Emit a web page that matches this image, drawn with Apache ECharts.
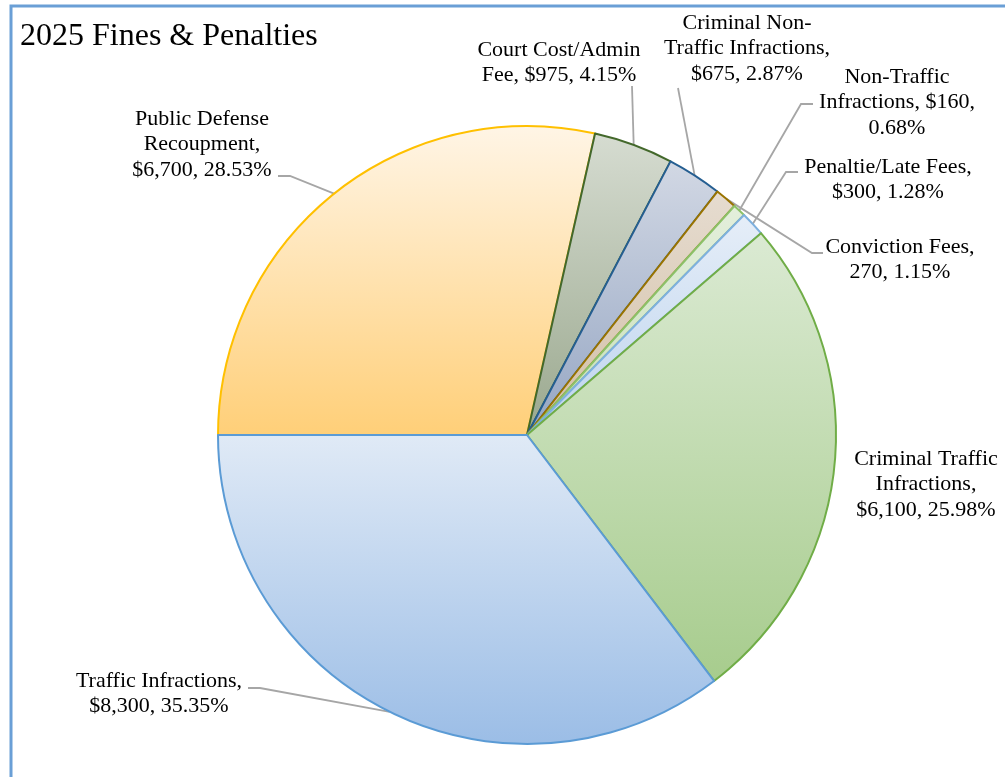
<!DOCTYPE html>
<html>
<head>
<meta charset="utf-8">
<title>2025 Fines & Penalties</title>
<script src="https://cdn.jsdelivr.net/npm/echarts@6/dist/echarts.min.js"></script>
<style>
  html, body { margin: 0; padding: 0; background: #ffffff; }
  #chart { width: 1005px; height: 777px; }
</style>
</head>
<body>
<div id="chart"></div>
<script>
// Fine and penalty categories, listed clockwise starting at the 9 o'clock position
const categories = [
  'Public Defense Recoupment',
  'Court Cost/Admin Fee',
  'Criminal Non-Traffic Infractions',
  'Conviction Fees',
  'Non-Traffic Infractions',
  'Penaltie/Late Fees',
  'Criminal Traffic Infractions',
  'Traffic Infractions'
];
const amounts = [6700, 975, 675, 270, 160, 300, 6100, 8300];
// The conviction fee amount is printed without a currency sign
const valuePrefixes = ['$', '$', '$', '', '$', '$', '$', '$'];
// Where each label's text wraps onto a new line
const labelBreaks = [
  ['Public Defense', 'Recoupment,'],
  ['Court Cost/Admin'],
  ['Criminal Non-', 'Traffic Infractions,'],
  ['Conviction Fees,'],
  ['Non-Traffic', 'Infractions, $160,'],
  ['Penaltie/Late Fees,'],
  ['Criminal Traffic', 'Infractions,'],
  ['Traffic Infractions,']
];

// Slice styling: gradient top/bottom and outline colour
const sliceStyles = [
  { top: '#FFF5E6', bottom: '#FFCF78', border: '#FFC000' },
  { top: '#D6DCD1', bottom: '#9AA88E', border: '#43682B' },
  { top: '#D2D8E4', bottom: '#95A6C3', border: '#255E91' },
  { top: '#E6DCD0', bottom: '#D2BFA5', border: '#997300' },
  { top: '#E4EFDC', bottom: '#C6DFB6', border: '#8CC168' },
  { top: '#E6EEF8', bottom: '#BCD3EE', border: '#7EB0DE' },
  { top: '#DBEAD3', bottom: '#A7CC8D', border: '#70AD47' },
  { top: '#E0EAF6', bottom: '#9BBDE6', border: '#5B9BD5' }
];

// Label placement: text centre x, text top y, and the leader line's label-side points
const labelPlacement = [
  { x: 202, y: 106, end: [278, 176], elbow: [290, 176] },
  { x: 559, y: 37,  end: [632, 86],  elbow: null },
  { x: 747, y: 10,  end: [678, 88],  elbow: null },
  { x: 900, y: 234, end: [823, 253], elbow: [812, 253] },
  { x: 897, y: 64,  end: [813, 104], elbow: [801, 104] },
  { x: 888, y: 154, end: [798, 172], elbow: [786, 172] },
  { x: 926, y: 446, end: null,       elbow: null },
  { x: 159, y: 668, end: [248, 688], elbow: [260, 688] }
];

const total = amounts.reduce((a, b) => a + b, 0);
const FONT = '"Liberation Serif", "Times New Roman", serif';

function formatLabel(i) {
  const v = amounts[i];
  const pct = (v / total * 100).toFixed(2);
  let text = categories[i] + ', ' + valuePrefixes[i] + v.toLocaleString('en-US') + ', ' + pct + '%';
  labelBreaks[i].forEach(function (b) {
    const pos = text.indexOf(b);
    if (pos < 0) return;
    const after = pos + b.length;
    if (text.charAt(after) === ' ') {
      text = text.slice(0, after) + '\n' + text.slice(after + 1);
    } else {
      text = text.slice(0, after) + '\n' + text.slice(after);
    }
  });
  return text;
}

const chart = echarts.init(document.getElementById('chart'), null, { renderer: 'canvas' });

const seriesData = categories.map(function (name, i) {
  const s = sliceStyles[i];
  return {
    name: name,
    value: amounts[i],
    itemStyle: {
      color: new echarts.graphic.LinearGradient(0, 0, 0, 1, [
        { offset: 0, color: s.top },
        { offset: 1, color: s.bottom }
      ]),
      borderColor: s.border,
      borderWidth: 2
    },
    labelLine: { show: labelPlacement[i].end !== null }
  };
});

function sliceEdgePoint(idx) {
  const data = chart.getModel().getSeriesByIndex(0).getData();
  const lay = data.getItemLayout(idx);
  const mid = (lay.startAngle + lay.endAngle) / 2;
  return [lay.cx + lay.r * Math.cos(mid), lay.cy + lay.r * Math.sin(mid)];
}

chart.setOption({
  backgroundColor: '#ffffff',
  animation: false,
  title: {
    text: '2025 Fines & Penalties',
    left: 15,
    top: 16,
    textStyle: { fontFamily: FONT, fontSize: 32, fontWeight: 'normal', color: '#000000' }
  },
  graphic: [{
    type: 'rect',
    shape: { x: 11, y: 6, width: 1200, height: 1000 },
    style: { fill: null, stroke: '#6A9FD6', lineWidth: 3 },
    silent: true,
    z: 100
  }],
  series: [{
    type: 'pie',
    center: [527, 435],
    radius: 309,
    startAngle: 180,
    clockwise: true,
    avoidLabelOverlap: false,
    percentPrecision: 2,
    data: seriesData,
    label: {
      show: true,
      position: 'outside',
      formatter: function (p) { return formatLabel(p.dataIndex); },
      fontFamily: FONT,
      fontSize: 22,
      lineHeight: 25.5,
      color: '#000000',
      align: 'center'
    },
    labelLine: {
      show: true,
      length: 10,
      length2: 10,
      lineStyle: { color: '#A6A6A6', width: 1.8 }
    },
    labelLayout: function (params) {
      const i = params.dataIndex;
      const lp = labelPlacement[i];
      const out = { x: lp.x, y: lp.y, align: 'center', verticalAlign: 'top' };
      if (lp.end) {
        let edge = params.labelLinePoints && params.labelLinePoints[0];
        try { edge = sliceEdgePoint(i); } catch (e) {}
        out.labelLinePoints = lp.elbow ? [edge, lp.elbow, lp.end] : [edge, lp.end, lp.end];
      }
      return out;
    }
  }]
});
</script>
</body>
</html>
